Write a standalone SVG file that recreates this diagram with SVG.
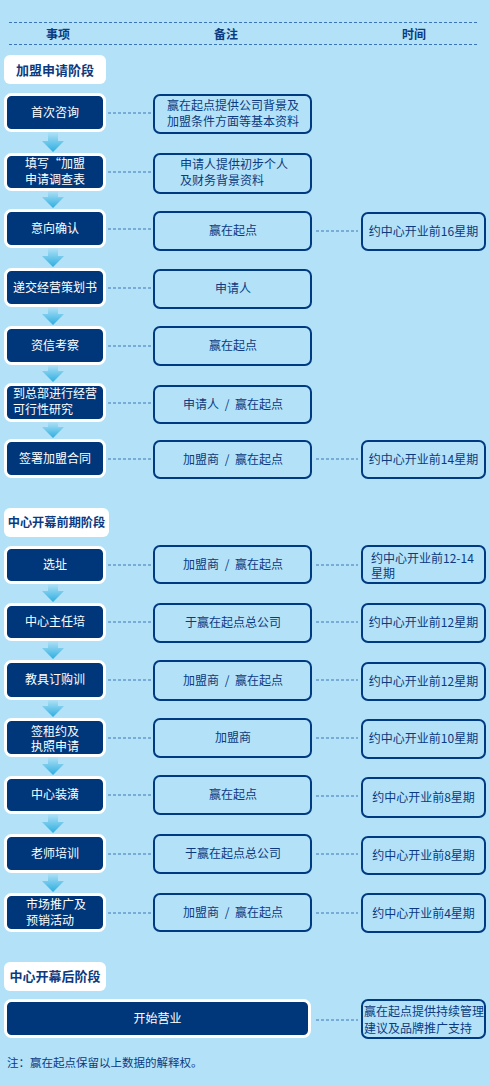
<svg xmlns="http://www.w3.org/2000/svg" width="490" height="1086" viewBox="0 0 490 1086">
<defs>
<linearGradient id="ag" x1="0" y1="0" x2="0" y2="1">
<stop offset="0" stop-color="#b6e4f8"/>
<stop offset="1" stop-color="#2eaee0"/>
</linearGradient>
<style>
text{font-family:"Noto Sans CJK SC","Noto Sans CJK TC",sans-serif;font-size:12px;fill:#0c3a80}
.hd{font-weight:bold;text-anchor:middle}
.st{font-weight:bold;font-size:13px;text-anchor:middle}
.stb{fill:#ffffff}
.nd{fill:#00377a;stroke:#ffffff;stroke-width:3}
.nt{fill:#ffffff;text-anchor:middle}
.ntl{fill:#ffffff}
.bx{fill:none;stroke:#003a80;stroke-width:2}
.c{text-anchor:middle;white-space:pre;word-spacing:3px}
.dl{stroke:#3a76b6;stroke-width:1;stroke-dasharray:3 2;fill:none}
.ar{fill:url(#ag)}
</style>
</defs>
<rect width="490" height="1086" fill="#b3e2f8"/>

<g id="header">
<line class="dl" x1="9" y1="22.5" x2="477" y2="22.5"/>
<line class="dl" x1="9" y1="44.5" x2="477" y2="44.5"/>
<text class="hd" x="58" y="39">事项</text>
<text class="hd" x="226" y="39">备注</text>
<text class="hd" x="414" y="39">时间</text>
</g>

<g id="connectors">
<path class="dl" d="M108 113H151M108 172H151M108 229H151M316 231H358M108 288H151M108 346H151M108 403H151M108 459H151M316 459H358M108 565H151M316 565H358M108 622H151M316 622H358M108 680H151M316 680H358M108 738H151M316 738H358M108 795H151M316 796H358M108 854H151M316 854H358M108 913H151M316 913H358M316 1020H358"/>
<path class="ar" d="M48 131H58V141H64L53 152L42 141H48Z"/>
<path class="ar" d="M48 190H58V197H64L53 208L42 197H48Z"/>
<path class="ar" d="M48 247H58V256H64L53 267L42 256H48Z"/>
<path class="ar" d="M48 306H58V314H64L53 325L42 314H48Z"/>
<path class="ar" d="M48 364H58V371H64L53 382L42 371H48Z"/>
<path class="ar" d="M48 421H58V427H64L53 438L42 427H48Z"/>
<path class="ar" d="M48 583H58V591H64L53 602L42 591H48Z"/>
<path class="ar" d="M48 640H58V648H64L53 659L42 648H48Z"/>
<path class="ar" d="M48 699H58V706H64L53 717L42 706H48Z"/>
<path class="ar" d="M48 756H58V764H64L53 775L42 764H48Z"/>
<path class="ar" d="M48 813H58V822H64L53 833L42 822H48Z"/>
<path class="ar" d="M48 872H58V881H64L53 892L42 881H48Z"/>
</g>

<g id="stage1">
<rect class="stb" x="4" y="55" width="102" height="29" rx="6"/>
<text class="st" x="55" y="75">加盟申请阶段</text>
</g>

<g id="n1"><rect class="nd" x="5.5" y="94.5" width="99" height="36" rx="6"/><text class="nt" x="55" y="117">首次咨询</text></g>
<g id="n2"><rect class="nd" x="5.5" y="154.5" width="99" height="35" rx="6"/><text class="nt" x="55" y="168">填写“加盟</text><text class="nt" x="55" y="184">申请调查表</text></g>
<g id="n3"><rect class="nd" x="5.5" y="210.5" width="99" height="36" rx="6"/><text class="nt" x="55" y="233">意向确认</text></g>
<g id="n4"><rect class="nd" x="5.5" y="269.5" width="99" height="36" rx="6"/><text class="nt" x="55" y="292">递交经营策划书</text></g>
<g id="n5"><rect class="nd" x="5.5" y="327.5" width="99" height="36" rx="6"/><text class="nt" x="55" y="350">资信考察</text></g>
<g id="n6"><rect class="nd" x="5.5" y="384.5" width="99" height="36" rx="6"/><text class="ntl" x="13" y="397.5">到总部进行经营</text><text class="ntl" x="13" y="413.5">可行性研究</text></g>
<g id="n7"><rect class="nd" x="5.5" y="440.5" width="99" height="36" rx="6"/><text class="nt" x="55" y="463">签署加盟合同</text></g>

<g id="r1"><rect class="bx" x="154" y="95" width="157" height="38" rx="6"/><text x="167" y="110">赢在起点提供公司背景及</text><text x="167" y="126">加盟条件方面等基本资料</text></g>
<g id="r2"><rect class="bx" x="154" y="154" width="157" height="39" rx="6"/><text x="180" y="169">申请人提供初步个人</text><text x="180" y="185">及财务背景资料</text></g>
<g id="r3"><rect class="bx" x="154" y="212" width="157" height="38" rx="6"/><text class="c" x="233" y="235">赢在起点</text></g>
<g id="r4"><rect class="bx" x="154" y="270" width="157" height="38" rx="6"/><text class="c" x="233" y="293">申请人</text></g>
<g id="r5"><rect class="bx" x="154" y="327" width="157" height="38" rx="6"/><text class="c" x="233" y="350">赢在起点</text></g>
<g id="r6"><rect class="bx" x="154" y="386" width="157" height="37" rx="6"/><text class="c" x="233" y="408.5">申请人 / 赢在起点</text></g>
<g id="r7"><rect class="bx" x="154" y="441" width="157" height="37" rx="6"/><text class="c" x="233" y="463.5">加盟商 / 赢在起点</text></g>

<g id="t3"><rect class="bx" x="362" y="213" width="123" height="37" rx="6"/><text class="c" x="423.5" y="236">约中心开业前16星期</text></g>
<g id="t7"><rect class="bx" x="362" y="441" width="123" height="37" rx="6"/><text class="c" x="423.5" y="464">约中心开业前14星期</text></g>

<g id="stage2">
<rect class="stb" x="4" y="508" width="105" height="29" rx="6"/>
<text class="st" x="56.5" y="527" style="font-size:12.2px">中心开幕前期阶段</text>
</g>

<g id="n8"><rect class="nd" x="5.5" y="547.5" width="99" height="35" rx="6"/><text class="nt" x="55" y="569">选址</text></g>
<g id="n9"><rect class="nd" x="5.5" y="604.5" width="99" height="35" rx="6"/><text class="nt" x="55" y="626">中心主任培</text></g>
<g id="n10"><rect class="nd" x="5.5" y="661.5" width="99" height="37" rx="6"/><text class="nt" x="55" y="684">教具订购训</text></g>
<g id="n11"><rect class="nd" x="5.5" y="719.5" width="99" height="36" rx="6"/><text class="nt" x="55" y="736">签租约及</text><text class="nt" x="55" y="751">执照申请</text></g>
<g id="n12"><rect class="nd" x="5.5" y="777.5" width="99" height="35" rx="6"/><text class="nt" x="55" y="799">中心装潢</text></g>
<g id="n13"><rect class="nd" x="5.5" y="835.5" width="99" height="36" rx="6"/><text class="nt" x="55" y="858">老师培训</text></g>
<g id="n14"><rect class="nd" x="5.5" y="894.5" width="99" height="36" rx="6"/><text class="ntl" x="26" y="909">市场推广及</text><text class="ntl" x="26" y="925">预销活动</text></g>

<g id="r8"><rect class="bx" x="154" y="546" width="157" height="37" rx="6"/><text class="c" x="233" y="569">加盟商 / 赢在起点</text></g>
<g id="r9"><rect class="bx" x="154" y="604" width="157" height="38" rx="6"/><text class="c" x="233" y="627">于赢在起点总公司</text></g>
<g id="r10"><rect class="bx" x="154" y="661" width="157" height="39" rx="6"/><text class="c" x="233" y="685">加盟商 / 赢在起点</text></g>
<g id="r11"><rect class="bx" x="154" y="719" width="157" height="38" rx="6"/><text class="c" x="233" y="742">加盟商</text></g>
<g id="r12"><rect class="bx" x="154" y="776" width="157" height="38" rx="6"/><text class="c" x="233" y="799">赢在起点</text></g>
<g id="r13"><rect class="bx" x="154" y="835" width="157" height="38" rx="6"/><text class="c" x="233" y="858">于赢在起点总公司</text></g>
<g id="r14"><rect class="bx" x="154" y="894" width="157" height="37" rx="6"/><text class="c" x="233" y="917">加盟商 / 赢在起点</text></g>

<g id="t8"><rect class="bx" x="362" y="546" width="123" height="37" rx="6"/><text x="371" y="563">约中心开业前12-14</text><text x="371" y="578">星期</text></g>
<g id="t9"><rect class="bx" x="362" y="604" width="123" height="38" rx="6"/><text class="c" x="423.5" y="627">约中心开业前12星期</text></g>
<g id="t10"><rect class="bx" x="362" y="663" width="123" height="37" rx="6"/><text class="c" x="423.5" y="686">约中心开业前12星期</text></g>
<g id="t11"><rect class="bx" x="362" y="720" width="123" height="38" rx="6"/><text class="c" x="423.5" y="743">约中心开业前10星期</text></g>
<g id="t12"><rect class="bx" x="362" y="778" width="123" height="39" rx="6"/><text class="c" x="423.5" y="802">约中心开业前8星期</text></g>
<g id="t13"><rect class="bx" x="362" y="837" width="123" height="37" rx="6"/><text class="c" x="423.5" y="860">约中心开业前8星期</text></g>
<g id="t14"><rect class="bx" x="362" y="894" width="123" height="38" rx="6"/><text class="c" x="423.5" y="917.5">约中心开业前4星期</text></g>

<g id="stage3">
<rect class="stb" x="4" y="962" width="102" height="29" rx="6"/>
<text class="st" x="55" y="981">中心开幕后阶段</text>
</g>

<g id="n15"><rect class="nd" x="5.5" y="1000.5" width="304" height="36" rx="6"/><text class="nt" x="157.5" y="1023">开始营业</text></g>
<g id="t15"><rect class="bx" x="362" y="1000" width="123" height="38" rx="6"/><text x="364" y="1016">赢在起点提供持续管理</text><text x="364" y="1033">建议及品牌推广支持</text></g>

<g id="note"><text x="7" y="1067" style="font-size:11.5px">注：赢在起点保留以上数据的解释权。</text></g>
</svg>
